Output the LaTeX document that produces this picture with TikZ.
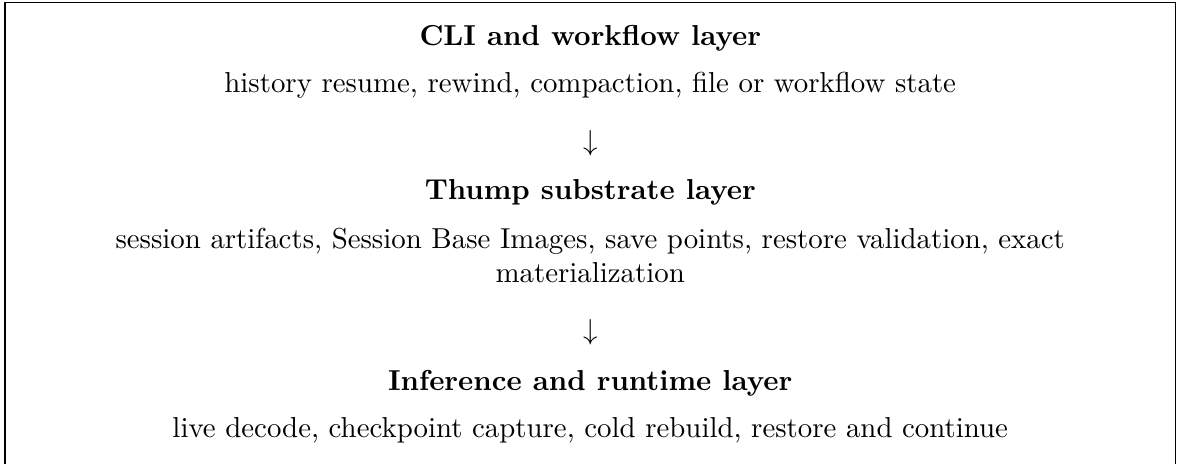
\documentclass[tikz,border=0pt]{standalone}
\usepackage{amsmath}

\begin{document}
\begin{tikzpicture}[x=1pt,y=-1pt,
  head/.style={font=\bfseries,inner sep=0pt,anchor=base},
  body/.style={inner sep=0pt,anchor=base,align=center},
  down/.style={inner sep=0pt}
]
  \useasboundingbox (0,0) rectangle (408,160.8);
  % open frame, its bottom edge lies below the page
  \draw[line width=0.5pt] (1.75,175) -- (1.75,0.95) -- (407.4,0.95) -- (407.4,175);

  \node[head] (cli)   at (204.6,15.6)  {CLI and workflow layer};
  \node[body] (clitx) at (204.6,32.2)  {history resume, rewind, compaction, file or workflow state};
  \node[down] (dn1)   at (204.6,49.6)  {$\downarrow$};

  \node[head] (thump)   at (204.6,69.3) {Thump substrate layer};
  \node[body,anchor=center] (thumptx) at (204.6,88.5)
        {session artifacts, Session Base Images, save points, restore validation, exact\\materialization};
  \node[down] (dn2)     at (204.6,115.1) {$\downarrow$};

  \node[head] (inf)   at (204.6,135.5) {Inference and runtime layer};
  \node[body] (inftx) at (204.6,151.8) {live decode, checkpoint capture, cold rebuild, restore and continue};
\end{tikzpicture}
\end{document}
